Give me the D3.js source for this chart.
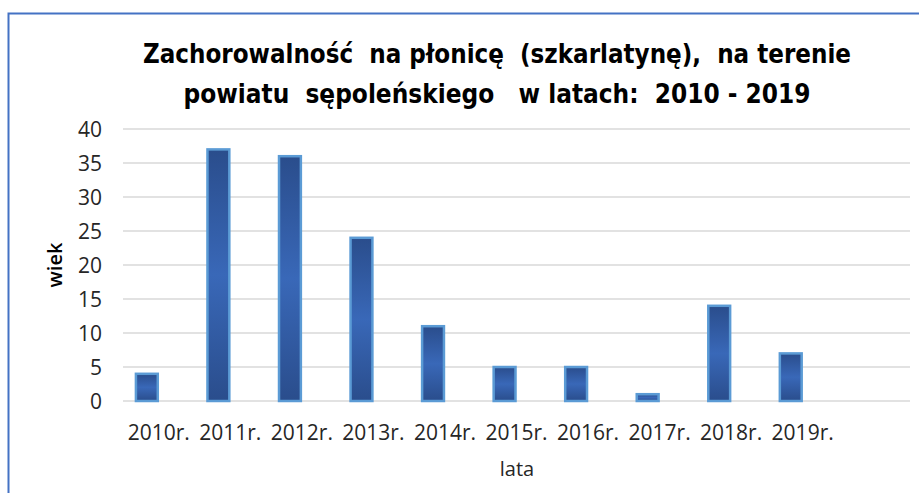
<!DOCTYPE html>
<html>
<head>
<meta charset="utf-8">
<script src="https://cdn.jsdelivr.net/npm/d3@7"></script>
<style>
  body { margin: 0; background: #fff; }
  text { font-family: "Open Sans", sans-serif; white-space: pre; }
  .title { font-family: "Liberation Sans Narrow", "DejaVu Sans Condensed", "Open Sans", sans-serif; }
</style>
</head>
<body>
<div id="graph"></div>
<script>
var years = ['2010r.', '2011r.', '2012r.', '2013r.', '2014r.', '2015r.', '2016r.', '2017r.', '2018r.', '2019r.', '']
var values = [4, 37, 36, 24, 11, 5, 5, 1, 14, 7]
var series = ['wiek', '']
var yTicks = [0, 5, 10, 15, 20, 25, 30, 35, 40]
var titleLines = ['Zachorowalność  na płonicę  (szkarlatynę),  na terenie', 'powiatu  sępoleńskiego   w latach:  2010 - 2019']

var width = 919, height = 493
var margin = {left: 123, right: 9, top: 129, bottom: 92}

var svg = d3.select('#graph').append('svg')
  .attr('width', width).attr('height', height)

// frame
svg.append('path')
  .attr('d', 'M 8.5 493 L 8.5 13.5 L 919 13.5')
  .attr('fill', 'none').attr('stroke', '#4472c4').attr('stroke-width', 2)

var defs = svg.append('defs')
var grad = defs.append('linearGradient').attr('id', 'barGrad')
  .attr('x1', 0).attr('y1', 0).attr('x2', 0).attr('y2', 1)
grad.append('stop').attr('offset', '0%').attr('stop-color', '#2a4d8c')
grad.append('stop').attr('offset', '50%').attr('stop-color', '#3968b8')
grad.append('stop').attr('offset', '100%').attr('stop-color', '#2a4d8c')

var x = d3.scaleBand().domain(years.map((d, i) => i))
  .range([margin.left, width - margin.right])
var x1 = d3.scaleBand().domain(series).range([0, x.bandwidth()])
  .paddingInner(0).paddingOuter(0.5)
var y = d3.scaleLinear().domain([0, 40]).range([height - margin.bottom, margin.top])

// gridlines
svg.append('g').selectAll('line').data(yTicks).join('line')
  .attr('x1', margin.left).attr('x2', width - margin.right)
  .attr('y1', d => y(d)).attr('y2', d => y(d))
  .attr('stroke', '#d9d9d9').attr('stroke-width', 1.5)

// y tick labels
svg.append('g').selectAll('text').data(yTicks).join('text')
  .attr('x', 102).attr('y', d => y(d)).attr('dy', '0.36em')
  .attr('text-anchor', 'end').attr('font-size', 21).attr('fill', '#262626')
  .text(d => d)

// x tick labels
svg.append('g').selectAll('text').data(years).join('text')
  .attr('x', (d, i) => x(i) + x.bandwidth() / 2).attr('y', 440)
  .attr('text-anchor', 'middle').attr('font-size', 21).attr('fill', '#262626')
  .text(d => d)

// bars
svg.append('g').selectAll('rect').data(values).join('rect')
  .attr('x', (d, i) => x(i) + x1('wiek') + 1)
  .attr('width', x1.bandwidth() - 2)
  .attr('y', d => y(d))
  .attr('height', d => y(0) - y(d))
  .attr('fill', 'url(#barGrad)')
  .attr('stroke', '#5b9bd5').attr('stroke-width', 2.5)

// titles
svg.append('g').selectAll('text').data(titleLines).join('text')
  .attr('class', 'title')
  .attr('x', 497).attr('y', (d, i) => 63 + i * 40)
  .attr('text-anchor', 'middle').attr('font-size', 27).attr('font-weight', 700)
  .attr('fill', '#000')
  .attr('textLength', (d, i) => i ? 627 : 708).attr('lengthAdjust', 'spacingAndGlyphs')
  .text(d => d)

svg.append('text')
  .attr('transform', 'translate(62,265) rotate(-90)')
  .attr('text-anchor', 'middle').attr('font-size', 20).attr('font-weight', 600)
  .attr('fill', '#000')
  .text('wiek')

svg.append('text')
  .attr('x', 517).attr('y', 476)
  .attr('text-anchor', 'middle').attr('font-size', 20).attr('fill', '#262626')
  .text('lata')
</script>
</body>
</html>
